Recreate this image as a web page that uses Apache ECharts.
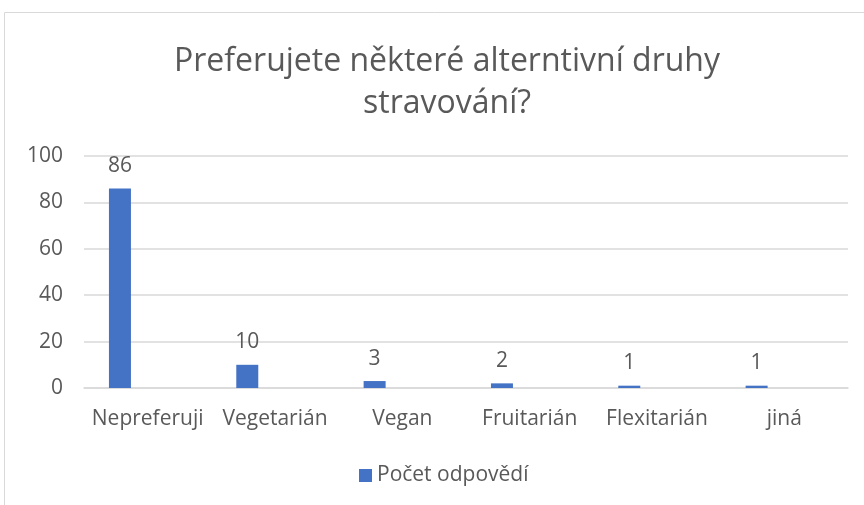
<!DOCTYPE html>
<html>
<head>
<meta charset="utf-8">
<script src="https://cdn.jsdelivr.net/npm/echarts@6/dist/echarts.min.js"></script>
<style>html,body{margin:0;padding:0;background:#fff}#c{width:864px;height:505px}</style>
</head>
<body>
<div id="c"></div>
<script>
const titleText = 'Preferujete některé alterntivní druhy\nstravování?';
const categories = ['Nepreferuji', 'Vegetarián', 'Vegan', 'Fruitarián', 'Flexitarián', 'jiná'];
const seriesName = 'Počet odpovědí';
const values = [86, 10, 3, 2, 1, 1];
const emptyValues = [null, null, null, null, null, null];
const yTicks = { min: 0, max: 100, interval: 20 };

const font = '"Open Sans", Lato, sans-serif';
const textColor = '#595959';
const chart = echarts.init(document.getElementById('c'), null, { renderer: 'canvas' });
chart.setOption({
  animation: false,
  textStyle: { fontFamily: font },
  graphic: [{
    type: 'rect', shape: { x: 4.5, y: 12.5, width: 900, height: 600 },
    style: { fill: 'none', stroke: '#d9d9d9', lineWidth: 1 }, silent: true, z: -1
  }],
  title: {
    text: titleText, left: 442, top: 36, textAlign: 'center',
    textStyle: { fontFamily: font, fontSize: 32, fontWeight: 'normal', color: textColor, lineHeight: 42 }
  },
  legend: {
    data: [seriesName], bottom: 19, left: 359, padding: 0, itemWidth: 13, itemHeight: 13, itemGap: 6,
    icon: 'rect',
    textStyle: { fontFamily: font, fontSize: 21, color: textColor }
  },
  grid: { left: 84, right: 16, top: 156, bottom: 117, containLabel: false },
  xAxis: {
    type: 'category', data: categories,
    axisLine: { show: true, lineStyle: { color: '#d9d9d9', width: 1.5 } },
    axisTick: { show: false },
    axisLabel: { fontFamily: font, fontSize: 21, color: textColor, margin: 21, interval: 0 }
  },
  yAxis: {
    type: 'value', min: yTicks.min, max: yTicks.max, interval: yTicks.interval,
    axisLine: { show: false }, axisTick: { show: false },
    splitLine: { lineStyle: { color: '#d9d9d9', width: 1.5 } },
    axisLabel: { fontFamily: font, fontSize: 21, color: textColor, margin: 21 }
  },
  series: [{
    name: seriesName, type: 'bar', data: values, barWidth: 22, barGap: '152%',
    itemStyle: { color: '#4472c4' },
    label: { show: true, position: 'top', distance: 12, fontFamily: font, fontSize: 21, color: textColor }
  }, {
    name: '_empty', type: 'bar', data: emptyValues, barWidth: 22, barGap: '152%'
  }]
});
</script>
</body>
</html>
